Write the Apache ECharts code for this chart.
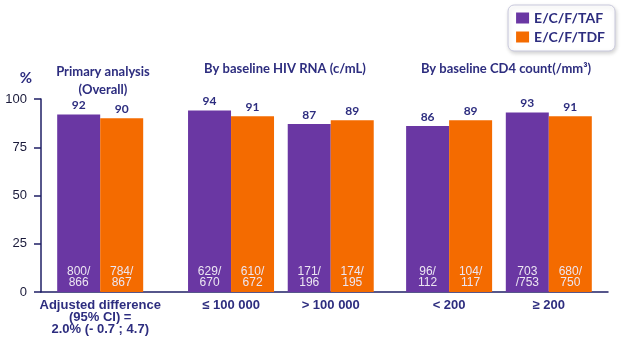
<!DOCTYPE html>
<html>
<head>
<meta charset="utf-8">
<script src="https://cdn.jsdelivr.net/npm/echarts@6/dist/echarts.min.js"></script>
<style>html,body{margin:0;padding:0;background:#fff}#c{width:621px;height:338px}</style>
</head>
<body>
<div id="c"></div>
<script>
// ---- data ----
const groups = ['Adjusted difference\n(95% CI) =\n2.0% (- 0.7 ; 4.7)', '≤ 100 000', '> 100 000', '< 200', '≥ 200'];
const seriesNames = ['E/C/F/TAF', 'E/C/F/TDF'];
const tafValues = [92, 94, 87, 86, 93];
const tdfValues = [90, 91, 89, 89, 91];
const tafCounts = ['800/\n866', '629/\n670', '171/\n196', '96/\n112', '703\n/753'];
const tdfCounts = ['784/\n867', '610/\n672', '174/\n195', '104/\n117', '680/\n750'];
const yTicks = [0, 25, 50, 75, 100];
const sectionTitles = ['Primary analysis\n(Overall)', 'By baseline HIV RNA (c/mL)', 'By baseline CD4 count(/mm³)'];

// ---- layout (slot grid used to reproduce uneven group spacing) ----
const SLOTS = 91;
const groupSlots = [9, 30, 46, 65, 81];
const NAVY = '#2d2d7f';
const PURPLE = '#6a37a3';
const ORANGE = '#f46b00';

const cats = new Array(SLOTS).fill('');
groupSlots.forEach((s, i) => cats[s] = groups[i]);
function spread(vals) {
  const a = new Array(SLOTS).fill(null);
  groupSlots.forEach((s, i) => a[s] = vals[i]);
  return a;
}
function countLookup(arr) {
  const m = {};
  groupSlots.forEach((s, i) => m[s] = arr[i]);
  return p => m[p.dataIndex] || '';
}

const chart = echarts.init(document.getElementById('c'), null, {renderer: 'canvas'});
const topLabel = {show: true, position: 'top', distance: 3, color: NAVY, fontFamily: 'Lato', fontWeight: 'bold', fontSize: 12};
const botLabel = {show: true, position: 'insideBottom', distance: 4, color: '#ece6f2', fontFamily: 'Liberation Sans', fontSize: 12, lineHeight: 11};

chart.setOption({
  animation: false,
  grid: {left: 41, right: 13, top: 99, bottom: 46, containLabel: false},
  legend: {
    data: seriesNames, orient: 'vertical', right: 6, top: 5,
    itemWidth: 13, itemHeight: 11, itemGap: 5, icon: 'rect',
    padding: [6, 10, 7, 8], backgroundColor: '#fff',
    borderColor: '#c9c9dd', borderWidth: 1, borderRadius: 6,
    shadowBlur: 4, shadowColor: 'rgba(0,0,0,0.18)', shadowOffsetX: 1, shadowOffsetY: 2,
    textStyle: {color: NAVY, fontFamily: 'Lato', fontWeight: 'bold', fontSize: 14}
  },
  xAxis: [{
    type: 'category', data: cats,
    axisLine: {lineStyle: {color: '#1f1f66', width: 1.5}},
    axisTick: {show: false},
    axisLabel: {interval: 0, margin: 7, color: NAVY, fontFamily: 'Liberation Sans', fontWeight: 'bold', fontSize: 13, lineHeight: 12}
  }, {
    type: 'category', data: cats, show: false, gridIndex: 0
  }],
  yAxis: {
    type: 'value', min: 0, max: 100, interval: 25,
    name: '%', nameLocation: 'end', nameGap: 13,
    nameTextStyle: {color: NAVY, fontFamily: 'Lato', fontWeight: 'bold', fontSize: 15, align: 'right', padding: [0, 9, 0, 0]},
    axisLine: {show: true, lineStyle: {color: '#1f1f66', width: 1.5}},
    axisTick: {show: true, length: 7, lineStyle: {color: '#1f1f66', width: 1.5}},
    splitLine: {show: false},
    axisLabel: {margin: 14, color: '#1a1a3a', fontFamily: 'Liberation Sans', fontSize: 13,
      formatter: v => yTicks.includes(v) ? String(v) : ''}
  },
  series: [
    {name: seriesNames[0], type: 'bar', xAxisIndex: 0, barWidth: 43, barGap: '0%', data: spread(tafValues), itemStyle: {color: PURPLE}, label: topLabel},
    {name: seriesNames[1], type: 'bar', xAxisIndex: 0, barWidth: 43, barGap: '0%', data: spread(tdfValues), itemStyle: {color: ORANGE}, label: topLabel},
    {name: 'tafN', type: 'bar', xAxisIndex: 1, barWidth: 43, barGap: '0%', data: spread(tafValues), itemStyle: {color: 'rgba(0,0,0,0)'}, label: Object.assign({}, botLabel, {formatter: countLookup(tafCounts)}), silent: true},
    {name: 'tdfN', type: 'bar', xAxisIndex: 1, barWidth: 43, barGap: '0%', data: spread(tdfValues), itemStyle: {color: 'rgba(0,0,0,0)'}, label: Object.assign({}, botLabel, {formatter: countLookup(tdfCounts)}), silent: true}
  ],
  graphic: [
    {type: 'text', x: 103, y: 81, style: {text: sectionTitles[0], textAlign: 'center', textVerticalAlign: 'middle', fill: NAVY, font: 'bold 13px Lato', lineHeight: 18}},
    {type: 'text', x: 285, y: 69, style: {text: sectionTitles[1], textAlign: 'center', textVerticalAlign: 'middle', fill: NAVY, font: 'bold 13px Lato'}},
    {type: 'text', x: 506, y: 69, style: {text: sectionTitles[2], textAlign: 'center', textVerticalAlign: 'middle', fill: NAVY, font: 'bold 13px Lato'}}
  ]
});
</script>
</body>
</html>
